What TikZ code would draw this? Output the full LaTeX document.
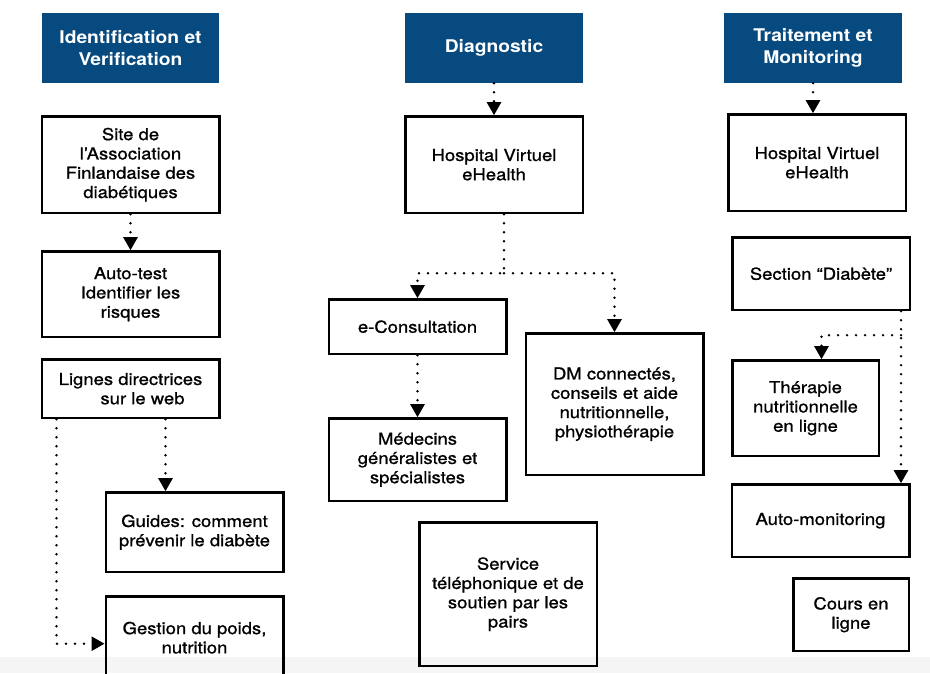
\documentclass[tikz,border=0pt]{standalone}
\usepackage{fontspec}
\setmainfont{TeX Gyre Heros}[FakeStretch=1.1]
\newfontfamily\boxfont{TeX Gyre Heros}[FakeStretch=1.12, FakeBold=1]
\usetikzlibrary{arrows.meta, positioning}
\definecolor{hdblue}{RGB}{7,74,128}

\begin{document}
\begin{tikzpicture}[x=1pt, y=-1pt, >={Triangle[length=13pt, width=14pt]},
    head/.style={rectangle, fill=hdblue, text=white, align=center, minimum width=178pt, minimum height=70pt, font=\bfseries\fontsize{17.5}{22}\selectfont},
    box/.style={rectangle, draw=black, line width=2.5pt, align=center, minimum width=177.5pt, inner sep=2pt, font=\boxfont\fontsize{16.5}{19.3}\selectfont},
    flow/.style={->, line width=2.6pt, line cap=round, dash pattern=on 0pt off 9pt}]

    \useasboundingbox (0,0) rectangle (930,673);
    \fill[black!4] (0,657) rectangle (930,673);

    %% column headers
    \node (idhead) [head, minimum width=177pt] at (130.5,48) {Identification et\\Verification};
    \node (diaghead) [head] at (494,48) {Diagnostic};
    \node (trthead) [head] at (813,48) {Traitement et\\Monitoring};

    %% identification
    \node (site) [box, minimum height=96.5pt, below=32pt of idhead] {Site de\\l’Association\\Finlandaise des\\diabétiques};
    \node (autotest) [box, minimum height=85.5pt, below=36pt of site] {Auto-test\\Identifier les\\risques};
    \node (lignes) [box, minimum height=58.5pt, below=20pt of autotest] {Lignes directrices\\\hspace*{24pt}sur le web};
    \node (guides) [box, minimum height=79.5pt, below=72pt of lignes, xshift=64pt] {Guides: comment\\prévenir le diabète};
    \node (gestion) [box, minimum height=82.5pt, below=22pt of guides] {Gestion du poids,\\nutrition};
    \draw[flow] (site) -- (autotest);
    \draw[flow] ([xshift=35pt]lignes.south) -- ([xshift=35pt]lignes.south |- guides.north);
    \draw[flow] ([xshift=-74pt]lignes.south) |- ([yshift=-6pt]gestion.west);

    %% diagnostic
    \node (hosp1) [box, minimum height=96.5pt, below=32pt of diaghead] {Hospital Virtuel\\eHealth};
    \node (econs) [box, minimum height=54.5pt, below=84pt of hosp1, xshift=-76.5pt] {e-Consultation};
    \node (medecins) [box, minimum height=82.5pt, below=62pt of econs] {Médecins\\généralistes et\\spécialistes};
    \node (dm) [box, minimum height=141.5pt, below=118pt of hosp1, xshift=120.5pt] {DM connectés,\\conseils et aide\\nutritionnelle,\\physiothérapie};
    \node (service) [box, minimum height=143.5pt, below=19pt of medecins, xshift=90.5pt] {Service\\téléphonique et de\\soutien par les\\pairs};
    \draw[flow] (diaghead) -- (hosp1);
    \coordinate (split1) at ([xshift=10pt, yshift=-59pt]hosp1.south);
    \draw[flow] ([xshift=10pt]hosp1.south) -- (split1) -| (econs.north);
    \draw[flow] (split1) -| (dm.north);
    \draw[flow] (econs) -- (medecins);

    %% traitement
    \node (hosp2) [box, minimum height=96.5pt, below=30pt of trthead, xshift=4pt] {Hospital Virtuel\\eHealth};
    \node (section) [box, minimum height=72.5pt, below=24pt of hosp2, xshift=4pt] {Section “Diabète”};
    \node (therapie) [box, minimum width=146.5pt, minimum height=95.5pt, below=48pt of section, xshift=-15.5pt] {Thérapie\\nutritionnelle\\en ligne};
    \node (automon) [box, minimum height=72.5pt, below=26pt of therapie, xshift=15pt] {Auto-monitoring};
    \node (cours) [box, minimum width=115.5pt, minimum height=72.5pt, below=19pt of automon, xshift=30.5pt] {Cours en\\ligne};
    \draw[flow] (trthead.south) -- (trthead.south |- hosp2.north);
    \draw[flow] ([xshift=80pt]section.south) -- ([xshift=80pt]section.south |- automon.north);
    \coordinate (split2) at ([xshift=80pt, yshift=-24pt]section.south);
    \draw[flow] (split2) -| ([xshift=16pt]therapie.north);

\end{tikzpicture}
\end{document}
